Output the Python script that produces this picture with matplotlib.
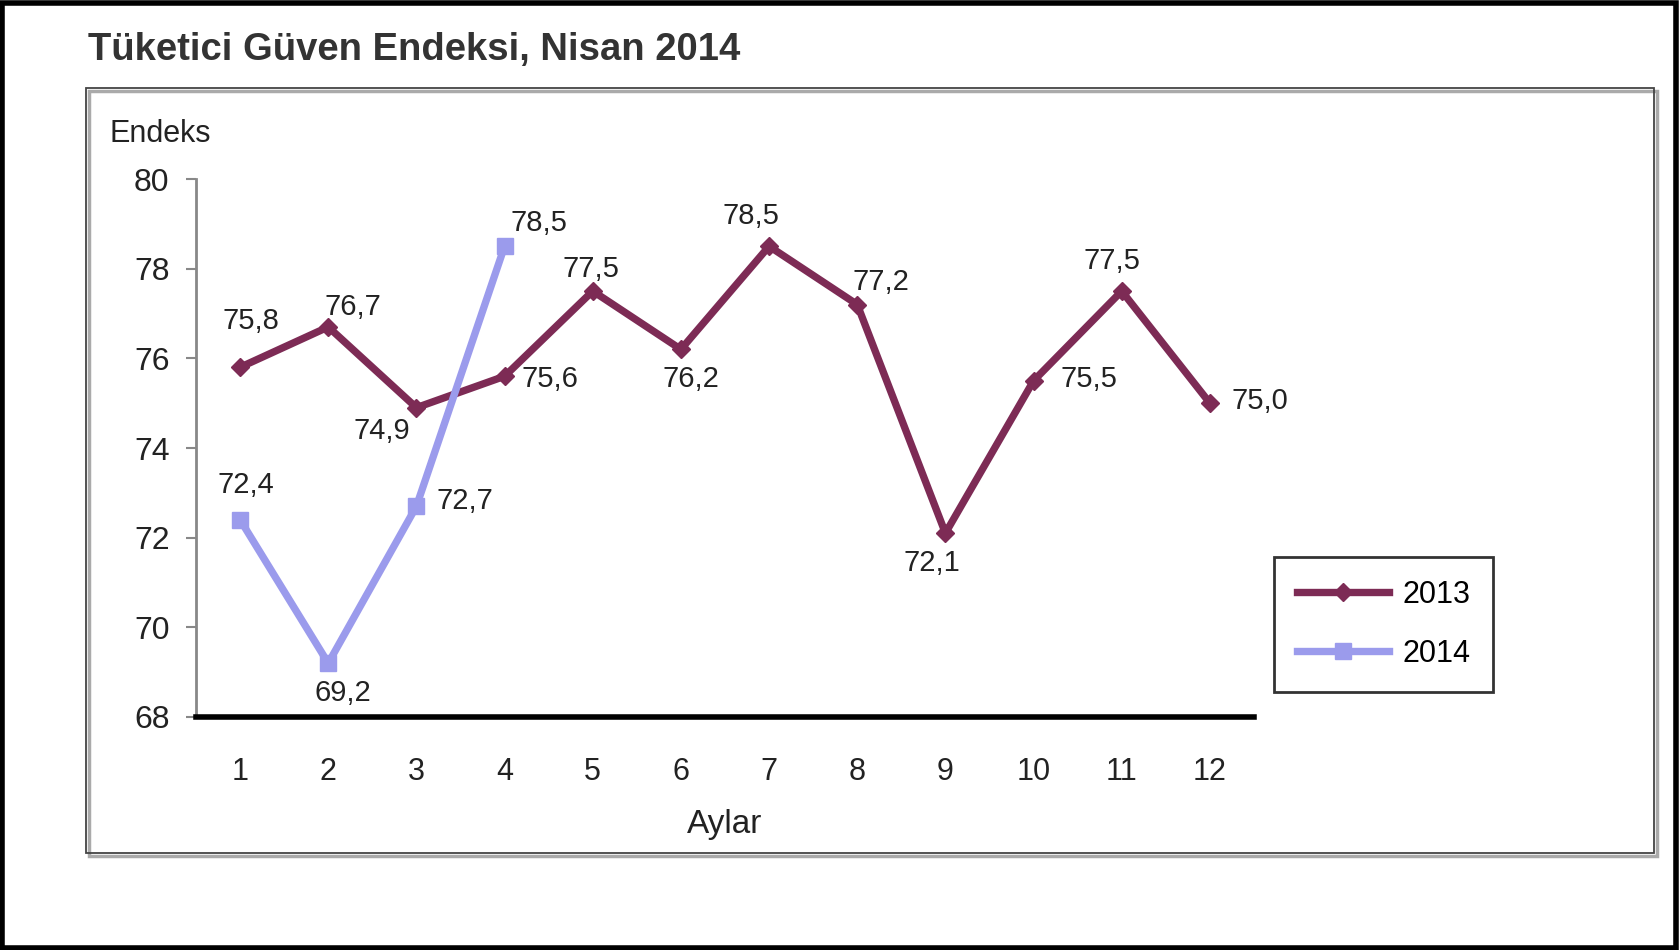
import matplotlib
matplotlib.use("Agg")
import matplotlib.pyplot as plt
from matplotlib.patches import Rectangle

plt.rcParams['font.family'] = ['Liberation Sans', 'DejaVu Sans']

months = [1, 2, 3, 4, 5, 6, 7, 8, 9, 10, 11, 12]
vals_2013 = [75.8, 76.7, 74.9, 75.6, 77.5, 76.2, 78.5, 77.2, 72.1, 75.5, 77.5, 75.0]
months_2014 = [1, 2, 3, 4]
vals_2014 = [72.4, 69.2, 72.7, 78.5]
yticks = [68, 70, 72, 74, 76, 78, 80]
title = "Tüketici Güven Endeksi, Nisan 2014"

# label offsets in pixels (dx, dy), dy positive downwards
off_2013 = [(11, -46), (25, -20), (-35, 23), (45, 3), (-2, -22), (10, 30),
            (-18, -30), (24, -23), (-14, 30), (55, -2), (-10, -30), (50, -2)]
off_2014 = [(6, -35), (15, 30), (49, -5), (34, -23)]

W, H = 1679, 950
fig = plt.figure(figsize=(W / 100, H / 100), dpi=100)
fig.patch.set_facecolor('white')

# outer black border
fig.patches.append(Rectangle((2 / W, 2 / H), 1 - 5 / W, 1 - 5 / H, transform=fig.transFigure,
                             fill=False, edgecolor='black', linewidth=4, zorder=0))
# inner grey frame with shadow
fig.patches.append(Rectangle((89 / W, 1 - 856 / H), 1568 / W, 765 / H, transform=fig.transFigure,
                             fill=False, edgecolor='#aaaaaa', linewidth=2.5, zorder=0))
fig.patches.append(Rectangle((86 / W, 1 - 853 / H), 1568 / W, 765 / H, transform=fig.transFigure,
                             fill=False, edgecolor='#444444', linewidth=1.3, zorder=0))

left, right = 196 / W, 1254 / W
top, bottom = 1 - 179 / H, 1 - 717 / H
ax = fig.add_axes([left, bottom, right - left, top - bottom])
ax.set_xlim(0.5, 12.5)
ax.set_ylim(68, 80)

c13 = '#7d2b55'
c14 = '#9b9bec'
ax.plot(months, vals_2013, color=c13, lw=5.3, marker='D', ms=9, mec=c13, mfc=c13,
        label='2013', zorder=3)
ax.plot(months_2014, vals_2014, color=c14, lw=5.3, marker='s', ms=11, mec=c14, mfc=c14,
        label='2014', zorder=4)

px = 0.72  # points per pixel
for x, y, (dx, dy) in zip(months, vals_2013, off_2013):
    ax.annotate(f"{y:.1f}".replace('.', ','), (x, y), xytext=(dx * px, -dy * px),
                textcoords='offset points', ha='center', va='center', fontsize=21, color='#222222')
for x, y, (dx, dy) in zip(months_2014, vals_2014, off_2014):
    ax.annotate(f"{y:.1f}".replace('.', ','), (x, y), xytext=(dx * px, -dy * px),
                textcoords='offset points', ha='center', va='center', fontsize=21, color='#222222')

for s in ['top', 'right']:
    ax.spines[s].set_visible(False)
ax.spines['left'].set_color('#888888')
ax.spines['left'].set_linewidth(2)
ax.spines['bottom'].set_color('black')
ax.spines['bottom'].set_linewidth(4)
ax.set_yticks(yticks)
ax.set_xticks(months)
ax.tick_params(axis='y', length=7, width=1.5, color='#888888', labelsize=23, pad=12, labelcolor='#222222')
ax.tick_params(axis='x', length=0, labelsize=22, pad=29, labelcolor='#222222')
ax.set_xlabel('Aylar', fontsize=24, color='#222222', labelpad=16)

fig.text(88 / W, 1 - 50 / H, title, fontsize=27.5, fontweight='bold', color='#333333',
         ha='left', va='center')
fig.text(110 / W, 1 - 134 / H, 'Endeks', fontsize=22, color='#222222', ha='left', va='center')

leg = fig.legend(loc='upper left', bbox_to_anchor=(1274 / W, 1 - 557 / H), fontsize=22,
                 frameon=True, fancybox=False, handlelength=3.0, handletextpad=0.45,
                 borderpad=0.75, labelspacing=0.95, borderaxespad=0)
leg.get_frame().set_edgecolor('black')
leg.get_frame().set_linewidth(2)

fig.savefig('out.png', dpi=100, facecolor='white')
